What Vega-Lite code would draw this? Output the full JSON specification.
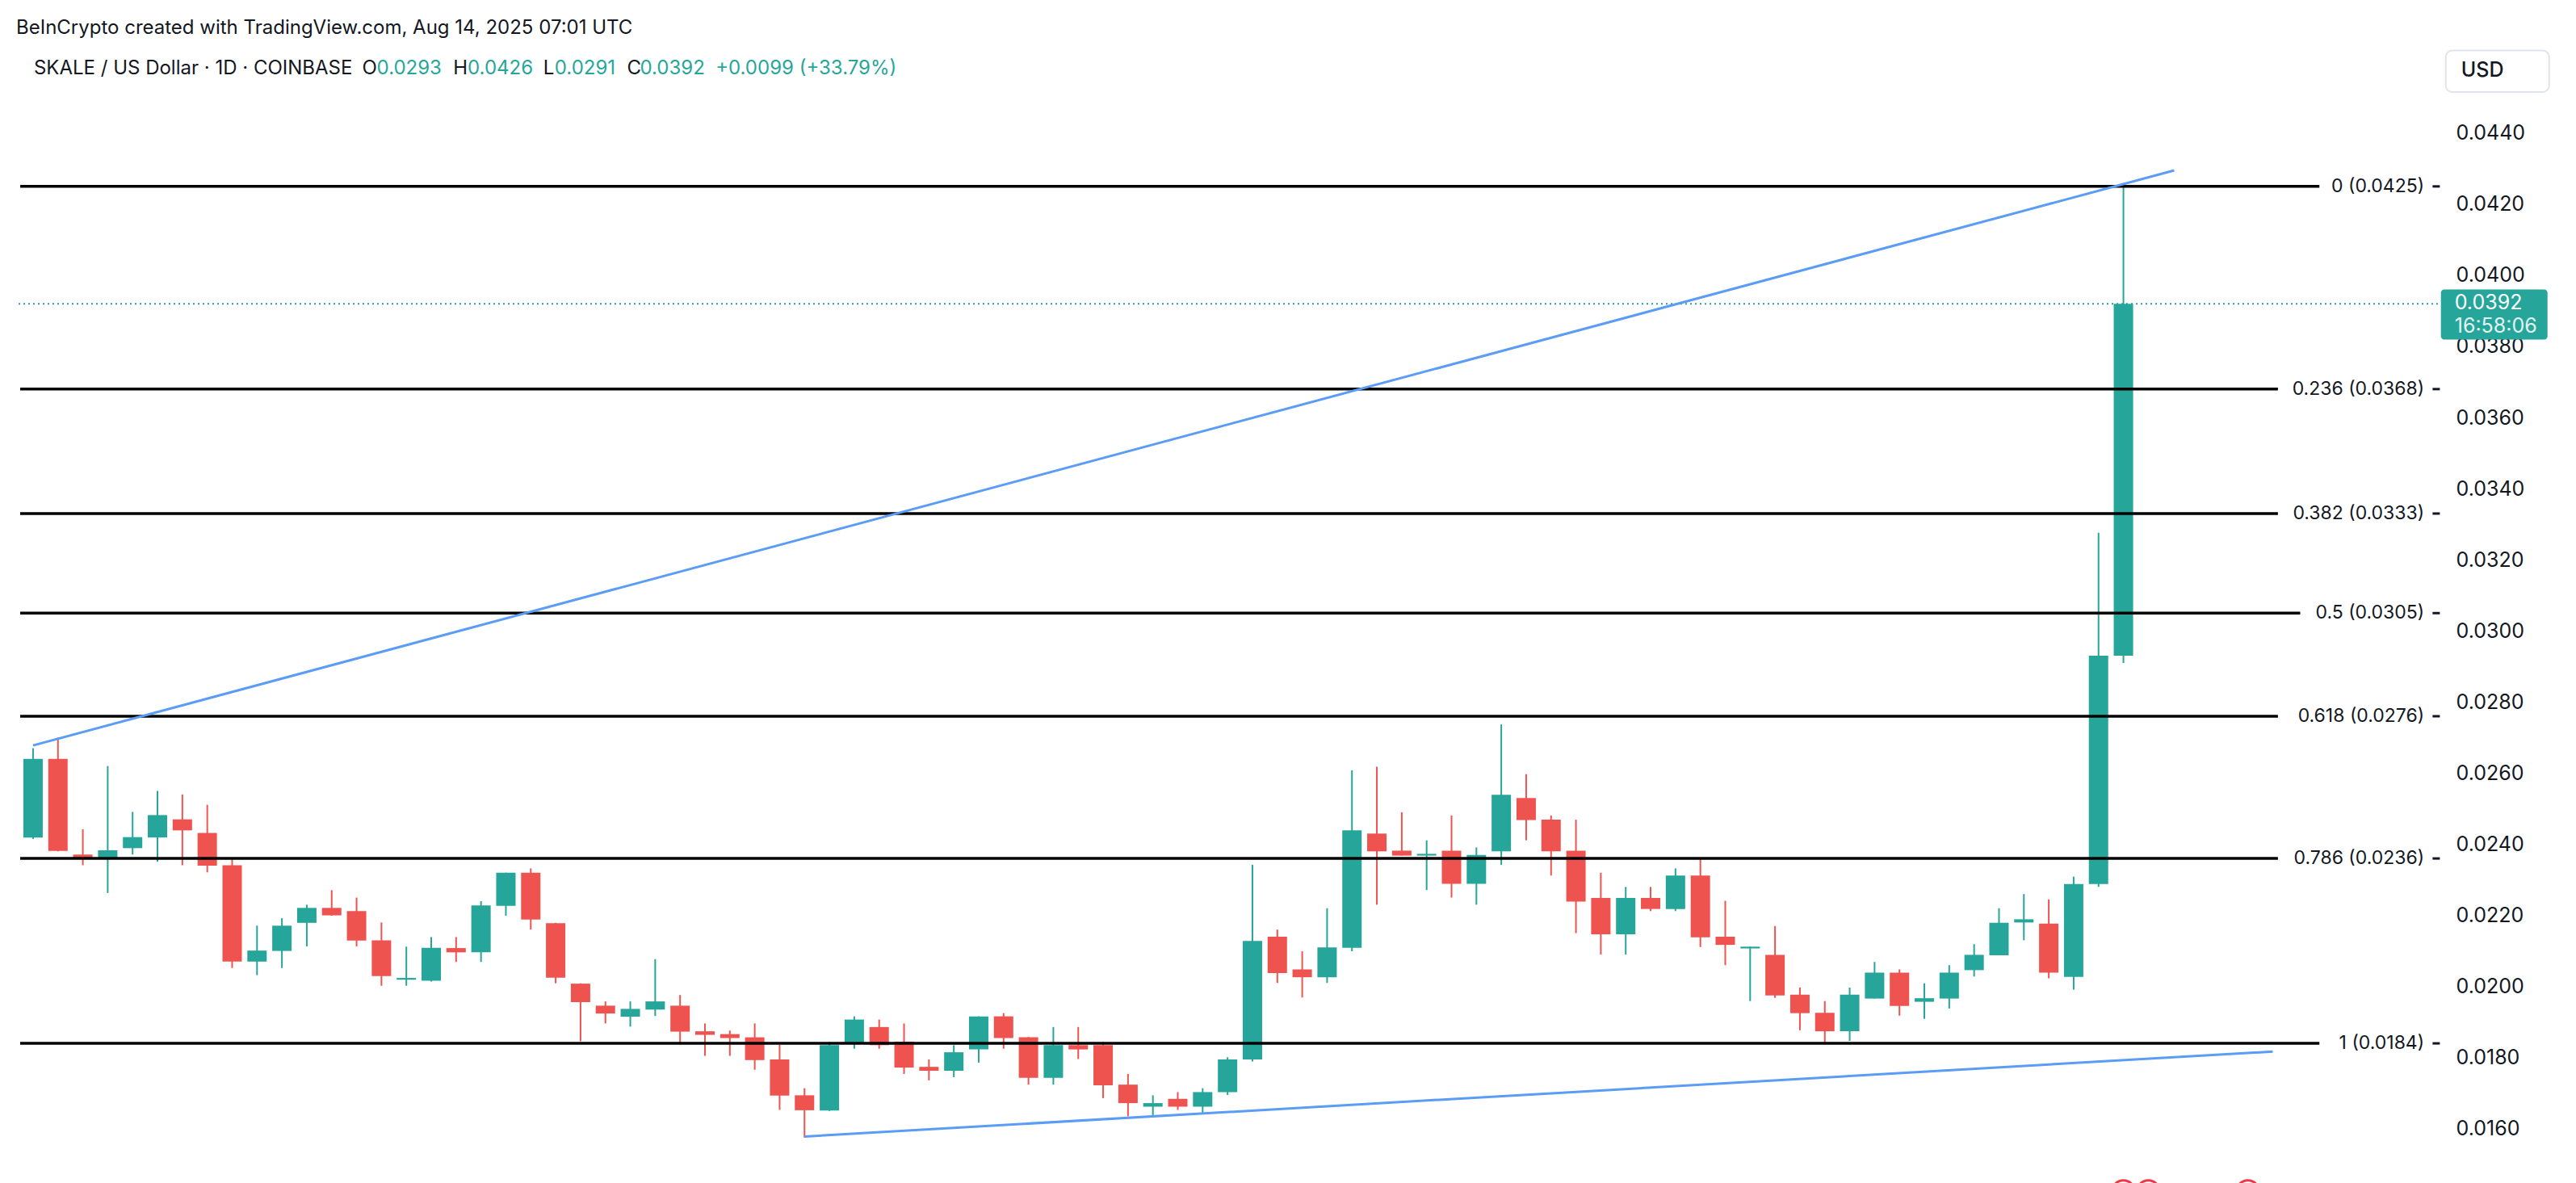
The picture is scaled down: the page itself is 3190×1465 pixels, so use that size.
{
 "$schema": "https://vega.github.io/schema/vega-lite/v6.json",
 "width": 3005,
 "height": 1415,
 "autosize": {"type": "none"},
 "padding": {"left": 20, "top": 55, "right": 165, "bottom": 0},
 "background": "#ffffff",
 "config": {"view": {"stroke": null}, "font": "Inter"},
 "title": {"text": "BeInCrypto created with TradingView.com, Aug 14, 2025 07:01 UTC", "anchor": "start", "frame": "group", "offset": 8, "fontSize": 24, "fontWeight": "normal", "color": "#131722", "font": "Inter"},
 "datasets": {
  "candles": [
   {"d":"2025-05-22","o":0.02419,"h":0.0267,"l":0.02415,"c":0.0264},
   {"d":"2025-05-23","o":0.0264,"h":0.0270,"l":0.0238,"c":0.02381},
   {"d":"2025-05-24","o":0.02371,"h":0.02442,"l":0.02341,"c":0.0236},
   {"d":"2025-05-25","o":0.0236,"h":0.0262,"l":0.02263,"c":0.02383},
   {"d":"2025-05-26","o":0.02389,"h":0.02491,"l":0.02371,"c":0.0242},
   {"d":"2025-05-27","o":0.02419,"h":0.0255,"l":0.02351,"c":0.02482},
   {"d":"2025-05-28","o":0.0247,"h":0.0254,"l":0.02341,"c":0.02439},
   {"d":"2025-05-29","o":0.02432,"h":0.02511,"l":0.02321,"c":0.0234},
   {"d":"2025-05-30","o":0.02341,"h":0.02362,"l":0.02052,"c":0.0207},
   {"d":"2025-05-31","o":0.0207,"h":0.02171,"l":0.02032,"c":0.02101},
   {"d":"2025-06-01","o":0.021,"h":0.02192,"l":0.02052,"c":0.02171},
   {"d":"2025-06-02","o":0.02179,"h":0.0223,"l":0.02113,"c":0.02221},
   {"d":"2025-06-03","o":0.02221,"h":0.02271,"l":0.02199,"c":0.022},
   {"d":"2025-06-04","o":0.02212,"h":0.0225,"l":0.02113,"c":0.02129},
   {"d":"2025-06-05","o":0.0213,"h":0.0218,"l":0.02002,"c":0.02029},
   {"d":"2025-06-06","o":0.02019,"h":0.02112,"l":0.02002,"c":0.02024},
   {"d":"2025-06-07","o":0.02016,"h":0.02139,"l":0.02014,"c":0.02109},
   {"d":"2025-06-08","o":0.02108,"h":0.02139,"l":0.02069,"c":0.02096},
   {"d":"2025-06-09","o":0.02096,"h":0.0224,"l":0.02069,"c":0.02228},
   {"d":"2025-06-10","o":0.02227,"h":0.0232,"l":0.02199,"c":0.0232},
   {"d":"2025-06-11","o":0.0232,"h":0.02332,"l":0.0216,"c":0.02188},
   {"d":"2025-06-12","o":0.02178,"h":0.02179,"l":0.02009,"c":0.02025},
   {"d":"2025-06-13","o":0.02008,"h":0.02009,"l":0.01846,"c":0.01956},
   {"d":"2025-06-14","o":0.01946,"h":0.01958,"l":0.01896,"c":0.01924},
   {"d":"2025-06-15","o":0.01915,"h":0.01958,"l":0.01887,"c":0.01937},
   {"d":"2025-06-16","o":0.01935,"h":0.02077,"l":0.01917,"c":0.01958},
   {"d":"2025-06-17","o":0.01946,"h":0.01976,"l":0.01837,"c":0.01873},
   {"d":"2025-06-18","o":0.01874,"h":0.01896,"l":0.01805,"c":0.01864},
   {"d":"2025-06-19","o":0.01866,"h":0.01876,"l":0.01805,"c":0.01855},
   {"d":"2025-06-20","o":0.01857,"h":0.01896,"l":0.01766,"c":0.01793},
   {"d":"2025-06-21","o":0.01795,"h":0.01836,"l":0.01653,"c":0.01693},
   {"d":"2025-06-22","o":0.01694,"h":0.01714,"l":0.01575,"c":0.01652},
   {"d":"2025-06-23","o":0.01651,"h":0.01844,"l":0.0165,"c":0.01835},
   {"d":"2025-06-24","o":0.01843,"h":0.01916,"l":0.01825,"c":0.01907},
   {"d":"2025-06-25","o":0.01886,"h":0.01907,"l":0.01825,"c":0.01835},
   {"d":"2025-06-26","o":0.01845,"h":0.01896,"l":0.01754,"c":0.01772},
   {"d":"2025-06-27","o":0.01774,"h":0.01795,"l":0.01736,"c":0.01763},
   {"d":"2025-06-28","o":0.01763,"h":0.01835,"l":0.01745,"c":0.01815},
   {"d":"2025-06-29","o":0.01823,"h":0.01916,"l":0.01786,"c":0.01916},
   {"d":"2025-06-30","o":0.01916,"h":0.01925,"l":0.01825,"c":0.01855},
   {"d":"2025-07-01","o":0.01857,"h":0.01858,"l":0.01724,"c":0.01743},
   {"d":"2025-07-02","o":0.01743,"h":0.01886,"l":0.01724,"c":0.01835},
   {"d":"2025-07-03","o":0.01835,"h":0.01886,"l":0.01796,"c":0.01823},
   {"d":"2025-07-04","o":0.01835,"h":0.01844,"l":0.01686,"c":0.01722},
   {"d":"2025-07-05","o":0.01724,"h":0.01754,"l":0.01635,"c":0.01672},
   {"d":"2025-07-06","o":0.01662,"h":0.01694,"l":0.01635,"c":0.01672},
   {"d":"2025-07-07","o":0.01684,"h":0.01703,"l":0.01653,"c":0.01662},
   {"d":"2025-07-08","o":0.01662,"h":0.01714,"l":0.01644,"c":0.01703},
   {"d":"2025-07-09","o":0.01703,"h":0.01801,"l":0.01695,"c":0.01795},
   {"d":"2025-07-10","o":0.01795,"h":0.02342,"l":0.01789,"c":0.02128},
   {"d":"2025-07-11","o":0.0214,"h":0.0216,"l":0.0201,"c":0.02038},
   {"d":"2025-07-12","o":0.02048,"h":0.02099,"l":0.01969,"c":0.02026},
   {"d":"2025-07-13","o":0.02026,"h":0.0222,"l":0.0201,"c":0.0211},
   {"d":"2025-07-14","o":0.02109,"h":0.02608,"l":0.02099,"c":0.02439},
   {"d":"2025-07-15","o":0.0243,"h":0.02618,"l":0.0223,"c":0.0238},
   {"d":"2025-07-16","o":0.02382,"h":0.0249,"l":0.02368,"c":0.02368},
   {"d":"2025-07-17","o":0.02368,"h":0.02411,"l":0.02271,"c":0.02373},
   {"d":"2025-07-18","o":0.02382,"h":0.02481,"l":0.0225,"c":0.02289},
   {"d":"2025-07-19","o":0.02289,"h":0.02391,"l":0.0223,"c":0.0237},
   {"d":"2025-07-20","o":0.0238,"h":0.02737,"l":0.02342,"c":0.02539},
   {"d":"2025-07-21","o":0.0253,"h":0.02597,"l":0.02411,"c":0.02468},
   {"d":"2025-07-22","o":0.02469,"h":0.02481,"l":0.02312,"c":0.0238},
   {"d":"2025-07-23","o":0.02382,"h":0.02469,"l":0.0215,"c":0.02239},
   {"d":"2025-07-24","o":0.02249,"h":0.0232,"l":0.0209,"c":0.02147},
   {"d":"2025-07-25","o":0.02147,"h":0.0228,"l":0.0209,"c":0.02249},
   {"d":"2025-07-26","o":0.02249,"h":0.0228,"l":0.02212,"c":0.02218},
   {"d":"2025-07-27","o":0.02218,"h":0.02332,"l":0.02212,"c":0.02312},
   {"d":"2025-07-28","o":0.02312,"h":0.02362,"l":0.02111,"c":0.02138},
   {"d":"2025-07-29","o":0.0214,"h":0.02241,"l":0.0206,"c":0.02117},
   {"d":"2025-07-30","o":0.02107,"h":0.02112,"l":0.01959,"c":0.02112},
   {"d":"2025-07-31","o":0.02089,"h":0.0217,"l":0.01968,"c":0.01975},
   {"d":"2025-08-01","o":0.01977,"h":0.01997,"l":0.01877,"c":0.01925},
   {"d":"2025-08-02","o":0.01926,"h":0.01959,"l":0.01837,"c":0.01874},
   {"d":"2025-08-03","o":0.01874,"h":0.01997,"l":0.01847,"c":0.01977},
   {"d":"2025-08-04","o":0.01966,"h":0.02069,"l":0.01966,"c":0.02039},
   {"d":"2025-08-05","o":0.02039,"h":0.02048,"l":0.01918,"c":0.01945},
   {"d":"2025-08-06","o":0.01957,"h":0.02009,"l":0.01909,"c":0.01967},
   {"d":"2025-08-07","o":0.01966,"h":0.0206,"l":0.01938,"c":0.02039},
   {"d":"2025-08-08","o":0.02046,"h":0.02119,"l":0.02028,"c":0.02089},
   {"d":"2025-08-09","o":0.02088,"h":0.0222,"l":0.02088,"c":0.02179},
   {"d":"2025-08-10","o":0.0218,"h":0.0226,"l":0.0213,"c":0.02189},
   {"d":"2025-08-11","o":0.02177,"h":0.02245,"l":0.02023,"c":0.02039},
   {"d":"2025-08-12","o":0.02027,"h":0.02309,"l":0.01991,"c":0.02288},
   {"d":"2025-08-13","o":0.02288,"h":0.03276,"l":0.0228,"c":0.0293},
   {"d":"2025-08-14","o":0.0293,"h":0.0426,"l":0.0291,"c":0.0392}
  ],
  "fib": [
   {"label":"0 (0.0425)","price":0.0425,"start":"2025-05-21T11:35:00Z","end":"2025-08-21T21:00:00Z"},
   {"label":"0.236 (0.0368)","price":0.0368,"start":"2025-05-21T11:35:00Z","end":"2025-08-20T05:00:00Z"},
   {"label":"0.382 (0.0333)","price":0.0333,"start":"2025-05-21T11:35:00Z","end":"2025-08-20T05:00:00Z"},
   {"label":"0.5 (0.0305)","price":0.0305,"start":"2025-05-21T11:35:00Z","end":"2025-08-21T02:30:00Z"},
   {"label":"0.618 (0.0276)","price":0.0276,"start":"2025-05-21T11:35:00Z","end":"2025-08-20T05:00:00Z"},
   {"label":"0.786 (0.0236)","price":0.0236,"start":"2025-05-21T11:35:00Z","end":"2025-08-20T05:00:00Z"},
   {"label":"1 (0.0184)","price":0.0184,"start":"2025-05-21T11:35:00Z","end":"2025-08-21T21:00:00Z"}
  ],
  "trend": [
   {"line":"upper","d":"2025-05-22T00:00:00Z","price":0.02678},
   {"line":"upper","d":"2025-08-16T01:00:00Z","price":0.04295},
   {"line":"lower","d":"2025-06-22T00:00:00Z","price":0.01578},
   {"line":"lower","d":"2025-08-20T00:00:00Z","price":0.01817}
  ],
  "events": [{"d":"2025-08-14"},{"d":"2025-08-15"},{"d":"2025-08-19"}]
 },
 "layer": [
  {
   "data": {"name": "candles"},
   "mark": {"type": "rule", "strokeWidth": 2},
   "encoding": {
    "x": {"field": "d", "type": "temporal", "axis": null, "scale": {"type": "utc", "domain": [{"year":2025,"month":5,"date":21,"hours":11,"minutes":35,"utc":true},{"year":2025,"month":8,"date":26,"hours":16,"minutes":5,"utc":true}]}},
    "y": {"field": "l", "type": "quantitative", "scale": {"domain": [0.01436, 0.046493], "zero": false, "nice": false},
      "axis": {"orient": "right", "values": [0.016,0.018,0.02,0.022,0.024,0.026,0.028,0.03,0.032,0.034,0.036,0.038,0.04,0.042,0.044], "format": ".4f", "labelFont": "Inter", "labelFontSize": 25, "labelColor": "#131722", "ticks": false, "domain": false, "grid": false, "labelPadding": 16, "title": null, "labelBaseline": "middle", "labelOverlap": false}},
    "y2": {"field": "h"},
    "color": {"condition": {"test": "datum.c >= datum.o", "value": "#26a69a"}, "value": "#ef5350"}
   }
  },
  {
   "data": {"name": "candles"},
   "mark": {"type": "bar", "width": 24},
   "encoding": {
    "x": {"field": "d", "type": "temporal", "axis": null},
    "y": {"field": "o", "type": "quantitative"},
    "y2": {"field": "c"},
    "color": {"condition": {"test": "datum.c >= datum.o", "value": "#26a69a"}, "value": "#ef5350"}
   }
  },
  {
   "data": {"values": [{}]},
   "mark": {"type": "rule", "strokeWidth": 2, "color": "#26a69a", "strokeDash": [2, 4]},
   "encoding": {
    "y": {"datum": 0.0392, "type": "quantitative"}
   }
  },
  {
   "data": {"name": "fib"},
   "mark": {"type": "rule", "strokeWidth": 3.5, "color": "#000000"},
   "encoding": {
    "x": {"field": "start", "type": "temporal", "axis": null},
    "x2": {"field": "end"},
    "y": {"field": "price", "type": "quantitative"}
   }
  },
  {
   "data": {"name": "fib"},
   "mark": {"type": "text", "align": "right", "baseline": "middle", "fontSize": 23, "font": "Inter", "color": "#131722"},
   "encoding": {
    "x": {"datum": {"year":2025,"month":8,"date":26,"hours":2,"minutes":10,"utc":true}, "type": "temporal", "axis": null},
    "y": {"field": "price", "type": "quantitative"},
    "text": {"field": "label"}
   }
  },
  {
   "data": {"name": "fib"},
   "mark": {"type": "tick", "orient": "horizontal", "size": 9, "thickness": 3, "color": "#131722", "opacity": 1},
   "encoding": {
    "x": {"datum": {"year":2025,"month":8,"date":26,"hours":13,"minutes":40,"utc":true}, "type": "temporal", "axis": null},
    "y": {"field": "price", "type": "quantitative"}
   }
  },
  {
   "data": {"name": "trend"},
   "mark": {"type": "line", "strokeWidth": 3, "color": "#5b9cf6"},
   "encoding": {
    "x": {"field": "d", "type": "temporal", "axis": null},
    "y": {"field": "price", "type": "quantitative"},
    "detail": {"field": "line"}
   }
  },
  {
   "data": {"values": [{}]},
   "mark": {"type": "point", "shape": "M-0.94,-0.47 H0.94 A0.06,0.06 0 0 1 1,-0.41 V0.41 A0.06,0.06 0 0 1 0.94,0.47 H-0.94 A0.06,0.06 0 0 1 -1,0.41 V-0.41 A0.06,0.06 0 0 1 -0.94,-0.47 Z", "size": 17424, "filled": true, "color": "#26a69a", "opacity": 1, "strokeWidth": 0},
   "encoding": {
    "x": {"datum": {"year":2025,"month":8,"date":28,"hours":21,"minutes":36,"utc":true}, "type": "temporal", "axis": null},
    "y": {"datum": 0.038897, "type": "quantitative"}
   }
  },
  {
   "data": {"values": [{}]},
   "mark": {"type": "text", "align": "left", "baseline": "middle", "fontSize": 25, "font": "Inter", "color": "#ffffff"},
   "encoding": {
    "x": {"datum": {"year":2025,"month":8,"date":27,"hours":7,"minutes":26,"utc":true}, "type": "temporal", "axis": null},
    "y": {"datum": 0.03922, "type": "quantitative"},
    "text": {"value": "0.0392"}
   }
  },
  {
   "data": {"values": [{}]},
   "mark": {"type": "text", "align": "left", "baseline": "middle", "fontSize": 25, "font": "Inter", "color": "#e3f4f2"},
   "encoding": {
    "x": {"datum": {"year":2025,"month":8,"date":27,"hours":7,"minutes":26,"utc":true}, "type": "temporal", "axis": null},
    "y": {"datum": 0.03857, "type": "quantitative"},
    "text": {"value": "16:58:06"}
   }
  },
  {
   "data": {"values": [{}]},
   "mark": {"type": "point", "shape": "M-0.875,-0.402 H0.875 A0.125,0.125 0 0 1 1,-0.277 V0.277 A0.125,0.125 0 0 1 0.875,0.402 H-0.875 A0.125,0.125 0 0 1 -1,0.277 V-0.277 A0.125,0.125 0 0 1 -0.875,-0.402 Z", "size": 16384, "filled": true, "fill": "#ffffff", "stroke": "#e0e3eb", "strokeWidth": 2, "opacity": 1},
   "encoding": {
    "x": {"datum": {"year":2025,"month":8,"date":29,"hours":0,"minutes":43,"utc":true}, "type": "temporal", "axis": null},
    "y": {"datum": 0.045738, "type": "quantitative"}
   }
  },
  {
   "data": {"values": [{}]},
   "mark": {"type": "text", "align": "left", "baseline": "middle", "fontSize": 25, "font": "Inter", "fontWeight": 500, "color": "#131722"},
   "encoding": {
    "x": {"datum": {"year":2025,"month":8,"date":27,"hours":13,"minutes":41,"utc":true}, "type": "temporal", "axis": null},
    "y": {"datum": 0.045767, "type": "quantitative"},
    "text": {"value": "USD"}
   }
  },
  {
   "data": {"name": "events"},
   "mark": {"type": "point", "shape": "circle", "filled": false, "size": 800, "strokeWidth": 3, "color": "#f23645", "opacity": 1},
   "encoding": {
    "x": {"field": "d", "type": "temporal", "axis": null},
    "y": {"datum": 0.014224, "type": "quantitative"}
   }
  },
  {
   "data": {"values": [{}]},
   "mark": {"type": "text", "align": "left", "baseline": "middle", "fontSize": 24, "font": "Inter", "color": "#131722"},
   "encoding": {
    "x": {"datum": {"year":2025,"month":5,"date":22,"hours":0,"minutes":46,"utc":true}, "type": "temporal", "axis": null},
    "y": {"datum": 0.045812, "type": "quantitative"},
    "text": {"value": "SKALE / US Dollar · 1D · COINBASE"}
   }
  },
  {
   "data": {"values": [{}]},
   "mark": {"type": "text", "align": "left", "baseline": "middle", "fontSize": 24, "font": "Inter", "color": "#131722"},
   "encoding": {
    "x": {"datum": {"year":2025,"month":6,"date":4,"hours":5,"minutes":30,"utc":true}, "type": "temporal", "axis": null},
    "y": {"datum": 0.045812, "type": "quantitative"},
    "text": {"value": "O"}
   }
  },
  {
   "data": {"values": [{}]},
   "mark": {"type": "text", "align": "left", "baseline": "middle", "fontSize": 24, "font": "Inter", "color": "#26a69a"},
   "encoding": {
    "x": {"datum": {"year":2025,"month":6,"date":4,"hours":19,"minutes":30,"utc":true}, "type": "temporal", "axis": null},
    "y": {"datum": 0.045812, "type": "quantitative"},
    "text": {"value": "0.0293"}
   }
  },
  {
   "data": {"values": [{}]},
   "mark": {"type": "text", "align": "left", "baseline": "middle", "fontSize": 24, "font": "Inter", "color": "#131722"},
   "encoding": {
    "x": {"datum": {"year":2025,"month":6,"date":7,"hours":21,"minutes":10,"utc":true}, "type": "temporal", "axis": null},
    "y": {"datum": 0.045812, "type": "quantitative"},
    "text": {"value": "H"}
   }
  },
  {
   "data": {"values": [{}]},
   "mark": {"type": "text", "align": "left", "baseline": "middle", "fontSize": 24, "font": "Inter", "color": "#26a69a"},
   "encoding": {
    "x": {"datum": {"year":2025,"month":6,"date":8,"hours":11,"minutes":5,"utc":true}, "type": "temporal", "axis": null},
    "y": {"datum": 0.045812, "type": "quantitative"},
    "text": {"value": "0.0426"}
   }
  },
  {
   "data": {"values": [{}]},
   "mark": {"type": "text", "align": "left", "baseline": "middle", "fontSize": 24, "font": "Inter", "color": "#131722"},
   "encoding": {
    "x": {"datum": {"year":2025,"month":6,"date":11,"hours":12,"minutes":0,"utc":true}, "type": "temporal", "axis": null},
    "y": {"datum": 0.045812, "type": "quantitative"},
    "text": {"value": "L"}
   }
  },
  {
   "data": {"values": [{}]},
   "mark": {"type": "text", "align": "left", "baseline": "middle", "fontSize": 24, "font": "Inter", "color": "#26a69a"},
   "encoding": {
    "x": {"datum": {"year":2025,"month":6,"date":11,"hours":23,"minutes":0,"utc":true}, "type": "temporal", "axis": null},
    "y": {"datum": 0.045812, "type": "quantitative"},
    "text": {"value": "0.0291"}
   }
  },
  {
   "data": {"values": [{}]},
   "mark": {"type": "text", "align": "left", "baseline": "middle", "fontSize": 24, "font": "Inter", "color": "#131722"},
   "encoding": {
    "x": {"datum": {"year":2025,"month":6,"date":14,"hours":20,"minutes":50,"utc":true}, "type": "temporal", "axis": null},
    "y": {"datum": 0.045812, "type": "quantitative"},
    "text": {"value": "C"}
   }
  },
  {
   "data": {"values": [{}]},
   "mark": {"type": "text", "align": "left", "baseline": "middle", "fontSize": 24, "font": "Inter", "color": "#26a69a"},
   "encoding": {
    "x": {"datum": {"year":2025,"month":6,"date":15,"hours":9,"minutes":20,"utc":true}, "type": "temporal", "axis": null},
    "y": {"datum": 0.045812, "type": "quantitative"},
    "text": {"value": "0.0392"}
   }
  },
  {
   "data": {"values": [{}]},
   "mark": {"type": "text", "align": "left", "baseline": "middle", "fontSize": 24, "font": "Inter", "color": "#26a69a"},
   "encoding": {
    "x": {"datum": {"year":2025,"month":6,"date":18,"hours":10,"minutes":15,"utc":true}, "type": "temporal", "axis": null},
    "y": {"datum": 0.045812, "type": "quantitative"},
    "text": {"value": "+0.0099 (+33.79%)"}
   }
  }
 ]
}
